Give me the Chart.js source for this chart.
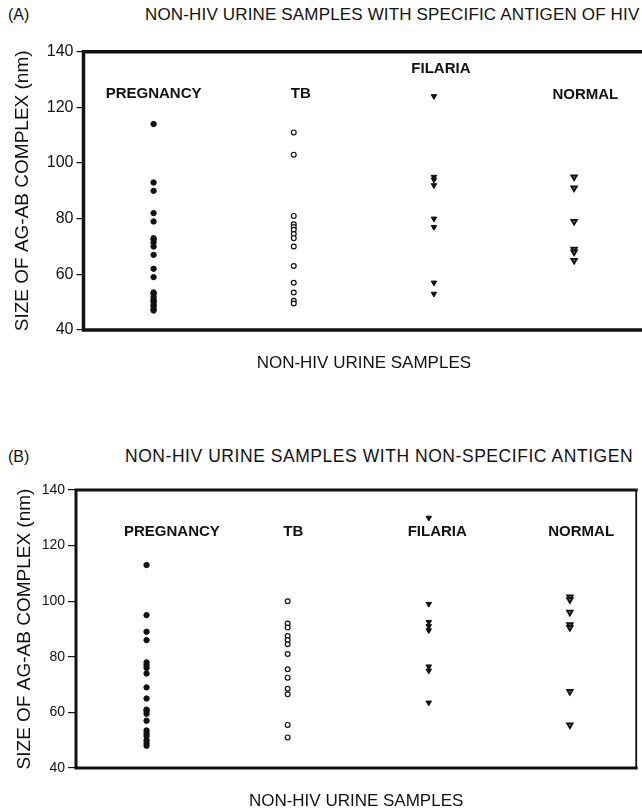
<!DOCTYPE html>
<html lang="en">
<head>
<meta charset="UTF-8">
<title>Non-HIV urine samples: size of Ag-Ab complex</title>
<script src="https://cdn.jsdelivr.net/npm/chart.js"></script>
<style>
    html, body { margin: 0; padding: 0; background: #fff; overflow: hidden; }
    body { width: 642px; height: 812px; position: relative; font-family: "Liberation Sans", Arial, sans-serif; color: #111; }
    .txt { position: absolute; white-space: nowrap; line-height: 1; }
    #wrapA { position: absolute; left: 0; top: 0; }
    #wrapB { position: absolute; left: 0; top: 440px; }
</style>
</head>
<body>
    <span class="txt" style="left:8px; top:7px; font-size:16px;">(A)</span>
    <span class="txt" style="left:145px; top:6px; font-size:17px; letter-spacing:0.16px;">NON-HIV URINE SAMPLES WITH SPECIFIC ANTIGEN OF HIV</span>
    <span class="txt" style="left:8px; top:449px; font-size:16px;">(B)</span>
    <span class="txt" style="left:125px; top:448px; font-size:17.5px; letter-spacing:0.55px;">NON-HIV URINE SAMPLES WITH NON-SPECIFIC ANTIGEN</span>

    <div id="wrapA"><canvas id="chartA" width="650" height="380"></canvas></div>
    <div id="wrapB"><canvas id="chartB" width="642" height="372"></canvas></div>

<script>
// categories and y ticks
const categories = ['PREGNANCY', 'TB', 'FILARIA', 'NORMAL'];
const yTicks = [40, 60, 80, 100, 120, 140];

// (A) specific antigen of HIV
const pregnancyA = [114, 93, 90, 82, 79, 73, 72.5, 71.5, 70, 67, 62, 59, 53.5, 53, 52, 51, 50.5, 50, 49, 48.5, 47.5, 47];
const tbA = [111, 103, 81, 78, 77, 76, 74.5, 73, 70, 63, 57, 53.5, 50.5, 49.5];
const filariaA = [124, 95, 94, 92, 80, 77, 57, 53];
const normalA = [95, 91, 79, 69, 68, 65];

// (B) non-specific antigen
const pregnancyB = [113, 95, 89, 86, 78, 77, 76, 74, 69, 65, 61, 60.5, 59.5, 57, 53.5, 52.5, 51.5, 50, 49, 48];
const tbB = [100, 92, 90.5, 87.5, 86, 84.5, 81, 75.5, 72.5, 68.5, 66.5, 55.5, 51];
const filariaB = [130, 99, 92.5, 91, 89.5, 76.5, 75, 63.5];
const normalB = [101.5, 100.5, 96, 91.5, 90.5, 67.5, 55.5];

const FONT = '"Liberation Sans", Arial, sans-serif';
const INK = '#111';

// group names drawn inside the plot, placed in data units
const catLabels = {
    id: 'catLabels',
    afterDatasetsDraw(chart, args, opts) {
        const { ctx, scales: { x, y } } = chart;
        ctx.save();
        ctx.font = 'bold 15px ' + FONT;
        ctx.fillStyle = INK;
        ctx.textAlign = 'center';
        ctx.textBaseline = 'middle';
        categories.forEach((name, i) => {
            ctx.fillText(name, x.getPixelForValue(opts.xs[i]), y.getPixelForValue(opts.ys[i]));
        });
        ctx.restore();
    }
};

// heavy box round the plot area
const frame = {
    id: 'frame',
    afterDraw(chart, args, opts) {
        const { ctx, chartArea: a } = chart;
        ctx.save();
        ctx.strokeStyle = INK;
        ctx.lineCap = 'square';
        ctx.lineWidth = opts.width;
        ctx.beginPath();
        ctx.moveTo(a.right, a.top);
        ctx.lineTo(a.left, a.top);
        ctx.lineTo(a.left, a.bottom);
        ctx.lineTo(a.right, a.bottom);
        ctx.stroke();
        ctx.lineWidth = opts.rightWidth;
        ctx.beginPath();
        ctx.moveTo(a.right, a.top);
        ctx.lineTo(a.right, a.bottom);
        ctx.stroke();
        ctx.restore();
    }
};

function series(values, cat, style) {
    return Object.assign({
        data: values.map(v => ({ x: cat, y: v })),
        pointBorderColor: INK,
        pointRadius: 2.7,
        pointBorderWidth: 1
    }, style);
}

function makeChart(id, sets, cfg) {
    const data = {
        datasets: [
            series(sets[0], 1, { pointStyle: 'circle', pointBackgroundColor: INK }),
            series(sets[1], 2, { pointStyle: 'circle', pointBackgroundColor: '#fff', pointBorderWidth: 1.2, pointRadius: 2.4 }),
            series(sets[2], 3, { pointStyle: 'triangle', pointRotation: 180, pointBackgroundColor: INK, pointRadius: 3.2 }),
            series(sets[3], 4, { pointStyle: 'triangle', pointRotation: 180, pointBackgroundColor: '#777', pointBorderWidth: 1.8, pointRadius: 3.2 })
        ]
    };
    return new Chart(document.getElementById(id), {
        type: 'scatter',
        data: data,
        plugins: [catLabels, frame],
        options: {
            responsive: false,
            animation: false,
            layout: { padding: { top: cfg.top, left: 0, right: cfg.right, bottom: 0 } },
            plugins: {
                legend: { display: false },
                tooltip: { enabled: false },
                catLabels: { xs: cfg.labelX, ys: cfg.labelY },
                frame: { width: cfg.frameW, rightWidth: cfg.rightW }
            },
            scales: {
                x: {
                    type: 'linear',
                    min: 0.5,
                    max: cfg.xMax,
                    ticks: { display: false },
                    grid: { display: false },
                    border: { display: false },
                    title: {
                        display: true,
                        text: 'NON-HIV URINE SAMPLES',
                        color: INK,
                        font: { family: FONT, size: 17 },
                        padding: { top: 0, bottom: cfg.xTitlePad }
                    },
                    afterFit: s => { s.height = cfg.xHeight; }
                },
                y: {
                    min: 40,
                    max: 140,
                    afterBuildTicks: s => { s.ticks = yTicks.map(v => ({ value: v })); },
                    ticks: { color: INK, font: { family: FONT, size: cfg.tickSize }, padding: 3 },
                    grid: { drawOnChartArea: false, drawTicks: true, tickLength: cfg.tickLen, color: INK, lineWidth: 1.2 },
                    border: { display: false },
                    title: {
                        display: true,
                        text: 'SIZE OF AG-AB COMPLEX (nm)',
                        color: INK,
                        font: { family: FONT, size: 19 },
                        padding: { top: cfg.yTitlePad, bottom: 0 }
                    },
                    afterFit: s => { s.width = cfg.yWidth; }
                }
            }
        }
    });
}

makeChart('chartA', [pregnancyA, tbA, filariaA, normalA], {
    top: 51.7, right: 2, xMax: 4.5, xHeight: 50, xTitlePad: 6,
    yWidth: 83.5, yTitlePad: 11, tickSize: 16, tickLen: 7,
    frameW: 3.5, rightW: 3.5,
    labelX: [1.0, 2.05, 3.05, 4.08], labelY: [124.8, 124.8, 133.8, 124.6]
});

makeChart('chartB', [pregnancyB, tbB, filariaB, normalB], {
    top: 50, right: 4, xMax: 4.47, xHeight: 44, xTitlePad: 0,
    yWidth: 76, yTitlePad: 13.5, tickSize: 14, tickLen: 8,
    frameW: 3, rightW: 1.8,
    labelX: [1.18, 2.04, 3.06, 4.08], labelY: [124.9, 124.9, 124.9, 124.9]
});
</script>
</body>
</html>
